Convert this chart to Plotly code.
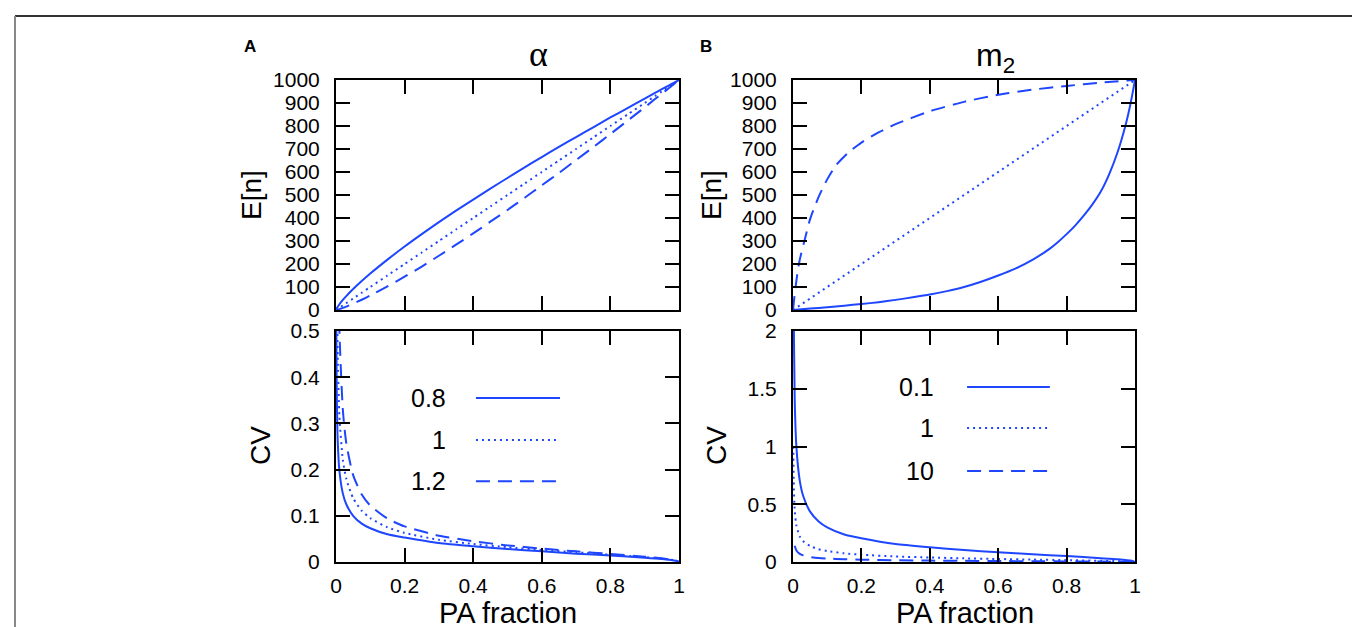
import plotly.graph_objects as go

# ---------------- data ----------------
pa_e = [0, 0.002, 0.005, 0.01, 0.02, 0.03, 0.05, 0.075, 0.1, 0.15, 0.2, 0.25, 0.3, 0.35, 0.4,
        0.45, 0.5, 0.55, 0.6, 0.65, 0.7, 0.75, 0.8, 0.85, 0.9, 0.93, 0.95, 0.97, 0.98, 0.99, 1.0]
en_alpha08 = [0, 6.9, 14.4, 25.1, 43.7, 60.5, 91.0, 125.9, 158.5, 219, 276, 330, 382, 432, 480,
              528, 574, 620, 665, 709, 752, 794, 837, 878, 919, 944, 960, 976, 984, 992, 1000]
en_alpha1 = [0, 2, 5, 10, 20, 30, 50, 75, 100, 150, 200, 250, 300, 350, 400,
             450, 500, 550, 600, 650, 700, 750, 800, 850, 900, 930, 950, 970, 980, 990, 1000]
en_alpha12 = [0, 0.6, 1.7, 4.0, 9.1, 14.9, 27.5, 44.7, 63.1, 102.7, 145, 189, 236, 284, 333,
              384, 435, 488, 542, 596, 652, 708, 765, 823, 881, 917, 940, 964, 976, 988, 1000]

pa_cv = [0.001, 0.002, 0.005, 0.01, 0.02, 0.03, 0.05, 0.075, 0.1, 0.15, 0.2, 0.3, 0.4, 0.5,
         0.6, 0.7, 0.8, 0.9, 0.95, 0.99, 1.0]
cv_alpha08 = [0.50, 0.379, 0.262, 0.197, 0.148, 0.125, 0.100, 0.083, 0.073, 0.060, 0.053, 0.041,
              0.034, 0.028, 0.023, 0.018, 0.014, 0.0094, 0.0065, 0.0028, 0]
cv_alpha1 = [1.0, 0.706, 0.446, 0.315, 0.221, 0.180, 0.138, 0.111, 0.095, 0.075, 0.063, 0.048,
             0.039, 0.032, 0.026, 0.021, 0.016, 0.0105, 0.0073, 0.0032, 0]
cv_alpha12 = [2.0, 1.32, 0.76, 0.50, 0.329, 0.257, 0.188, 0.146, 0.122, 0.094, 0.077, 0.057,
              0.045, 0.036, 0.029, 0.023, 0.0175, 0.0116, 0.008, 0.0035, 0]

pa_m01 = [0, 0.05, 0.1, 0.15, 0.2, 0.25, 0.3, 0.35, 0.4, 0.45, 0.5, 0.55, 0.6, 0.65, 0.7, 0.75,
          0.775, 0.8, 0.825, 0.85, 0.875, 0.9, 0.925, 0.95, 0.97, 0.98, 0.99, 1.0]
en_m01 = [0, 6, 12, 19, 26, 34, 44, 55, 67, 82, 100, 123, 150, 180, 218, 266,
          296, 330, 367, 410, 458, 515, 592, 690, 790, 850, 920, 1000]
pa_m1 = [0, 1.0]
en_m1 = [0, 1000]
pa_m10 = [0, 0.002, 0.005, 0.01, 0.015, 0.02, 0.035, 0.05, 0.075, 0.1, 0.125, 0.16, 0.2, 0.25,
          0.3, 0.4, 0.5, 0.6, 0.7, 0.8, 0.9, 1.0]
en_m10 = [0, 28, 68, 128, 180, 220, 310, 395, 492, 568, 628, 682, 728, 772, 808, 864,
          905, 936, 958, 974, 989, 1000]

cv_m01 = [3.16, 2.24, 1.41, 0.995, 0.70, 0.569, 0.436, 0.351, 0.300, 0.238, 0.205, 0.155,
          0.127, 0.103, 0.084, 0.067, 0.051, 0.033, 0.023, 0.010, 0]
cv_m1 = cv_alpha1
pa_cv10 = [0.005, 0.01, 0.02, 0.03, 0.05, 0.075, 0.1, 0.15, 0.2, 0.3, 0.4, 0.5, 0.6, 0.7, 0.8,
           0.9, 1.0]
cv_m10 = [0.141, 0.0995, 0.070, 0.057, 0.0436, 0.0351, 0.030, 0.0238, 0.020, 0.0153, 0.0122,
          0.010, 0.0082, 0.0065, 0.005, 0.0033, 0]

alpha_labels = ["0.8", "1", "1.2"]
m2_labels = ["0.1", "1", "10"]
x_ticks = [0, 0.2, 0.4, 0.6, 0.8, 1]

# ---------------- style ----------------
BLUE = "#1e46ff"
FONT = "Liberation Sans, Arial, sans-serif"
DASHES = ["solid", "2px,4px", "14px,8px"]
LW = 2

W, H = 1360, 627
ML, MR, MT, MB = 328, 233, 72, 73
PW, PH = W - ML - MR, H - MT - MB


def px(x):
    return (x - ML) / PW


def py(y):
    return (H - MB - y) / PH


fig = go.Figure()


def add(x, y, dash, xa, ya):
    fig.add_trace(go.Scatter(x=x, y=y, mode="lines", xaxis=xa, yaxis=ya, showlegend=False,
                             line=dict(color=BLUE, width=LW, dash=dash, shape="spline", smoothing=0.6),
                             hoverinfo="skip"))


# Panel A top
add(pa_e, en_alpha08, DASHES[0], "x", "y")
add(pa_e, en_alpha1, DASHES[1], "x", "y")
add(pa_e, en_alpha12, DASHES[2], "x", "y")
# Panel B top
add(pa_m01, en_m01, DASHES[0], "x2", "y2")
add(pa_m1, en_m1, DASHES[1], "x2", "y2")
add(pa_m10, en_m10, DASHES[2], "x2", "y2")
# Panel A bottom
add(pa_cv, cv_alpha08, DASHES[0], "x3", "y3")
add(pa_cv, cv_alpha1, DASHES[1], "x3", "y3")
add(pa_cv, cv_alpha12, DASHES[2], "x3", "y3")
# Panel B bottom
add(pa_cv, cv_m01, DASHES[0], "x4", "y4")
add(pa_cv, cv_m1, DASHES[1], "x4", "y4")
add(pa_cv10, cv_m10, DASHES[2], "x4", "y4")

dA = [0, px(671)]
dB = [px(785), 1]
dTop = [py(302), 1]
dBot = [0, py(323)]

axis_common = dict(showline=True, linecolor="black", linewidth=2, mirror="ticks",
                   ticks="inside", ticklen=14, tickwidth=2, tickcolor="black",
                   showgrid=False, zeroline=False,
                   tickfont=dict(family=FONT, size=21, color="black"))

fig.update_layout(
    width=W, height=H, margin=dict(l=ML, r=MR, t=MT, b=MB),
    paper_bgcolor="white", plot_bgcolor="white",
    xaxis=dict(domain=dA, anchor="y", range=[0, 1], tickvals=x_ticks, showticklabels=False, **axis_common),
    yaxis=dict(domain=dTop, anchor="x", range=[0, 1000], dtick=100, ticklabelstandoff=10, **axis_common),
    xaxis2=dict(domain=dB, anchor="y2", range=[0, 1], tickvals=x_ticks, showticklabels=False, **axis_common),
    yaxis2=dict(domain=dTop, anchor="x2", range=[0, 1000], dtick=100, ticklabelstandoff=10, **axis_common),
    xaxis3=dict(domain=dA, anchor="y3", range=[0, 1], tickvals=x_ticks, ticklabelstandoff=4, **axis_common),
    yaxis3=dict(domain=dBot, anchor="x3", range=[0, 0.5], dtick=0.1, ticklabelstandoff=10, **axis_common),
    xaxis4=dict(domain=dB, anchor="y4", range=[0, 1], tickvals=x_ticks, ticklabelstandoff=4, **axis_common),
    yaxis4=dict(domain=dBot, anchor="x4", range=[0, 2], dtick=0.5, ticklabelstandoff=10, **axis_common),
)

ann = []


def text(x, y, s, size, **kw):
    d = dict(x=px(x), y=py(y), xref="paper", yref="paper", text=s, showarrow=False,
             font=dict(family=kw.pop("family", FONT), size=size, color="black"),
             xanchor=kw.pop("xanchor", "center"), yanchor="middle")
    d.update(kw)
    ann.append(d)


text(242, 38, "<b>A</b>", 17)
text(698, 38, "<b>B</b>", 17)
text(530, 46, "α", 36, family="Liberation Serif, Times New Roman, serif")
text(987, 50, "m<sub>2</sub>", 32)
text(243, 187, "E[n]", 28, textangle=-90)
text(703, 187, "E[n]", 28, textangle=-90)
text(252, 438, "CV", 28, textangle=-90)
text(708, 438, "CV", 28, textangle=-90)
text(500, 605, "PA fraction", 29)
text(957, 605, "PA fraction", 29)

# legends (text on the left, line sample on the right, as in the original)
shapes = []
legA_y = [0.355, 0.264, 0.175]
legB_y = [1.515, 1.16, 0.788]
for i in range(3):
    ann.append(dict(x=0.327, y=legA_y[i], xref="x3", yref="y3", text=alpha_labels[i], showarrow=False,
                    xanchor="right", yanchor="middle", font=dict(family=FONT, size=25, color="black")))
    shapes.append(dict(type="line", xref="x3", yref="y3", x0=0.408, x1=0.653, y0=legA_y[i], y1=legA_y[i],
                       line=dict(color=BLUE, width=LW, dash=DASHES[i])))
    ann.append(dict(x=0.418, y=legB_y[i], xref="x4", yref="y4", text=m2_labels[i], showarrow=False,
                    xanchor="right", yanchor="middle", font=dict(family=FONT, size=25, color="black")))
    shapes.append(dict(type="line", xref="x4", yref="y4", x0=0.509, x1=0.751, y0=legB_y[i], y1=legB_y[i],
                       line=dict(color=BLUE, width=LW, dash=DASHES[i])))

# outer frame of the figure panel
shapes.append(dict(type="line", xref="paper", yref="paper", x0=px(7), x1=px(1356), y0=py(8), y1=py(8),
                   line=dict(color="#333333", width=2)))
shapes.append(dict(type="line", xref="paper", yref="paper", x0=px(7), x1=px(7), y0=py(8), y1=py(660),
                   line=dict(color="#888888", width=2)))
shapes.append(dict(type="line", xref="paper", yref="paper", x0=px(1356), x1=px(1356), y0=py(8), y1=py(660),
                   line=dict(color="#888888", width=2)))

fig.update_layout(annotations=ann, shapes=shapes)
fig.write_html("out.html")
